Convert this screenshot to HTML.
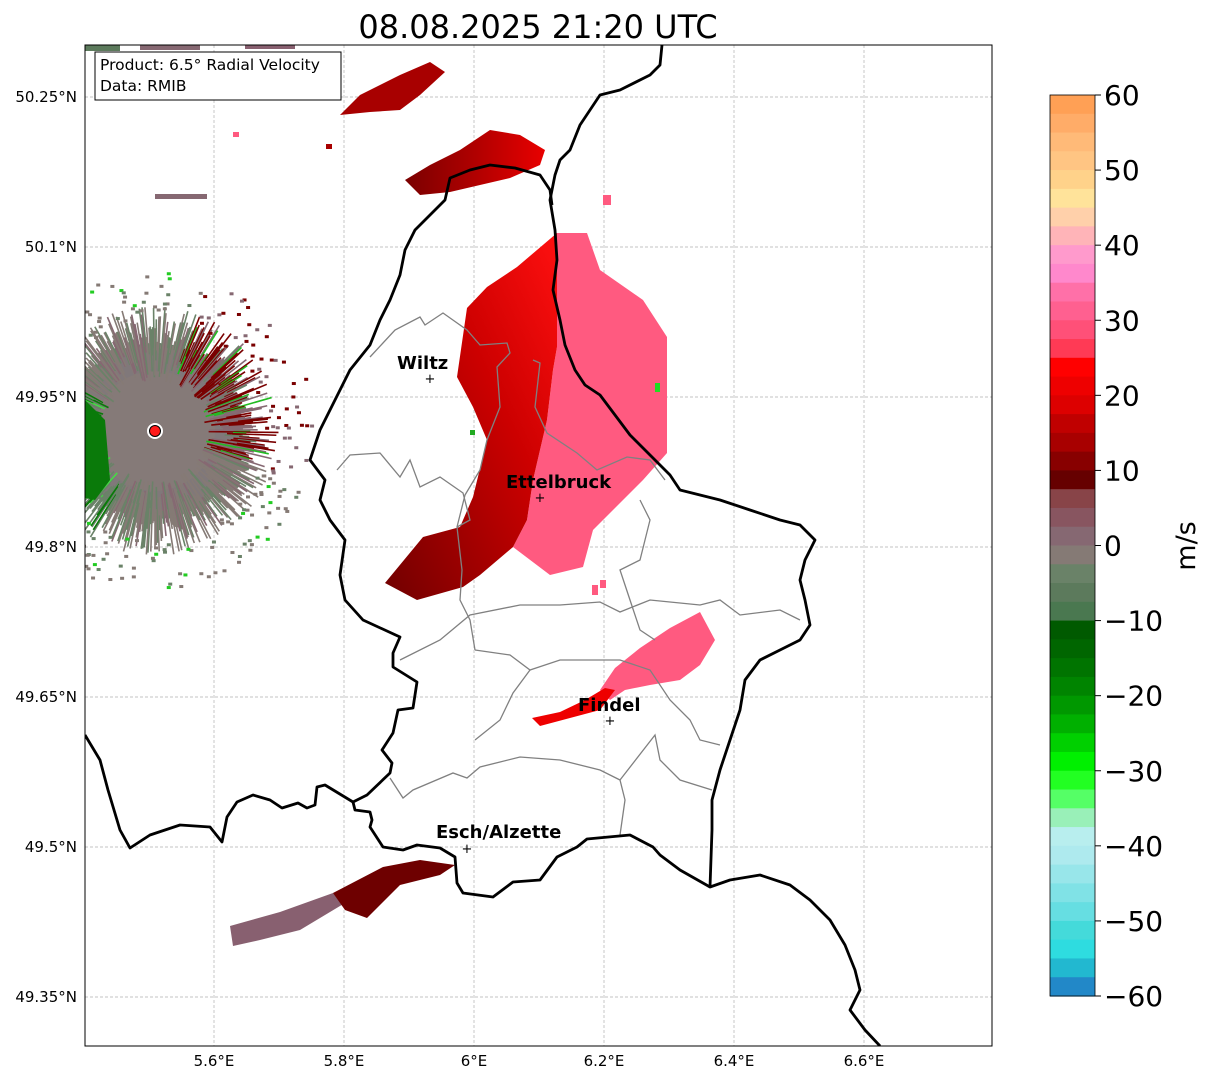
<!DOCTYPE html>
<html><head><meta charset="utf-8"><style>
body{margin:0;background:#fff;font-family:"Liberation Sans","DejaVu Sans",sans-serif}
svg text{font-family:"DejaVu Sans","Liberation Sans",sans-serif}
</style></head><body>
<svg id="s" width="1207" height="1081" viewBox="0 0 1207 1081" xmlns="http://www.w3.org/2000/svg">
<defs>
<clipPath id="ax"><rect x="85" y="45" width="907" height="1001"/></clipPath>
<linearGradient id="redg" x1="0" y1="0" x2="1" y2="0">
<stop offset="0" stop-color="#7a0000"/><stop offset="0.5" stop-color="#b00000"/><stop offset="1" stop-color="#e80000"/></linearGradient>
<linearGradient id="redg2" x1="0" y1="1" x2="1" y2="0">
<stop offset="0" stop-color="#700000"/><stop offset="0.6" stop-color="#cc0000"/><stop offset="1" stop-color="#ff1010"/></linearGradient>
</defs>
<text x="538" y="38" text-anchor="middle" font-size="32">08.08.2025 21:20 UTC</text>
<g id="grid"></g>
<g clip-path="url(#ax)">
<g id="clutter"></g>
<g>
<rect x="85" y="45" width="35" height="6" fill="#5c7a5c"/>
<rect x="140" y="45" width="60" height="5" fill="#866872"/>
<rect x="245" y="45" width="50" height="4" fill="#886070"/>
<rect x="155" y="194" width="52" height="5" fill="#866872"/>
<polygon fill="#a80000" points="340,115 360,95 400,75 430,62 445,72 420,95 400,110 370,112"/>
<polygon fill="url(#redg)" points="405,180 430,165 460,150 490,130 520,135 545,150 540,165 510,178 480,185 450,192 420,195"/>
<polygon fill="#ff5a80" points="557,233 587,233 600,270 643,300 667,337 667,453 643,480 593,530 583,567 550,575 513,547 527,520 533,480 547,420 553,370 557,347"/>
<polygon fill="url(#redg2)" points="557,233 557,347 553,370 547,420 533,480 527,520 513,547 480,575 463,587 417,600 385,583 423,537 460,527 473,497 487,440 473,407 457,377 467,308 487,287 517,267"/>
<polygon fill="#ff5a80" points="600,690 615,668 640,648 670,628 700,612 715,640 700,665 680,680 650,685 625,690 610,700"/>
<polygon fill="#ee0000" points="532,718 560,712 585,700 605,688 615,690 600,710 570,718 540,726"/>
<polygon fill="#886070" points="230,926 280,912 333,893 345,903 300,930 260,940 233,946"/>
<polygon fill="#6e0000" points="333,893 383,867 420,860 455,865 440,875 400,885 367,918 345,910"/>
<rect x="603" y="195" width="8" height="10" fill="#ff5a80"/>
<rect x="592" y="585" width="6" height="10" fill="#ff5a80"/>
<rect x="600" y="580" width="6" height="8" fill="#ff5a80"/>
<rect x="233" y="132" width="6" height="5" fill="#ff5a80"/>
<rect x="326" y="144" width="6" height="5" fill="#a80000"/>
<rect x="655" y="383" width="5" height="9" fill="#22dd22"/>
<rect x="470" y="430" width="5" height="5" fill="#22aa22"/>
</g>
<g id="gray-borders" fill="none" stroke="#808080" stroke-width="1.3"></g>
<g id="borders" fill="none" stroke="#000" stroke-width="2.8" stroke-linejoin="round"></g>
<circle cx="155" cy="431" r="5.5" fill="#ff1a1a" stroke="#000" stroke-width="1"/>
<g font-weight="bold" font-size="18">
<text x="397" y="369">Wiltz</text>
<text x="430" y="383" font-size="13" font-weight="normal" text-anchor="middle">+</text>
<text x="506" y="488">Ettelbruck</text>
<text x="540" y="502" font-size="13" font-weight="normal" text-anchor="middle">+</text>
<text x="578" y="711">Findel</text>
<text x="610" y="725" font-size="13" font-weight="normal" text-anchor="middle">+</text>
<text x="436" y="838">Esch/Alzette</text>
<text x="467" y="853" font-size="13" font-weight="normal" text-anchor="middle">+</text>
</g>
</g>
<rect x="85" y="45" width="907" height="1001" fill="none" stroke="#000" stroke-width="1"/>
<g>
<rect x="95" y="52" width="246" height="48" fill="#fff" stroke="#000" stroke-width="1"/>
<text x="100" y="70" font-size="15.5">Product: 6.5° Radial Velocity</text>
<text x="100" y="91" font-size="15.5">Data: RMIB</text>
</g>
<g id="ticks" font-size="15"></g>
<g id="cbar"></g>
<text x="1195" y="546" font-size="27" text-anchor="middle" transform="rotate(-90 1195 546)">m/s</text>
</svg>
<script>
const lonTicks=[5.6,5.8,6.0,6.2,6.4,6.6];
const lonLabels=["5.6°E","5.8°E","6°E","6.2°E","6.4°E","6.6°E"];
const latTicks=[50.25,50.1,49.95,49.8,49.65,49.5,49.35];
const latLabels=["50.25°N","50.1°N","49.95°N","49.8°N","49.65°N","49.5°N","49.35°N"];
const cbarTicks=[60,50,40,30,20,10,0,-10,-20,-30,-40,-50,-60];
const cbarColors=["#ffa055","#ffac68","#ffba78","#ffc583","#ffd28a","#ffe39a","#ffd0aa","#ffb4b8","#ff9acc","#ff88cc","#ff70a8","#ff6090","#ff5078","#ff3a55","#ff0000","#ee0000","#dd0000","#c00000","#a80000","#880000","#660000","#884448","#885560","#866872","#857a75","#6a8268","#5c7a5c","#4a7850","#005a00","#006600","#007400","#008400","#009800","#00b000","#00d000","#00f000","#22ff22","#55ff66","#99f0b8","#b8eeee","#aeeaee","#98e6ea","#80e2e6","#66dee2","#44dada","#2edce0","#22b8d0","#2288c8"];
const NS="http://www.w3.org/2000/svg";
function X(lon){return 474+(lon-6)*650;}
function Y(lat){return 547-(lat-49.8)*1000;}
function mk(tag,attrs,parent){const e=document.createElementNS(NS,tag);for(const k in attrs)e.setAttribute(k,attrs[k]);parent.appendChild(e);return e;}
const grid=document.getElementById('grid'),ticks=document.getElementById('ticks');
lonTicks.forEach((v,i)=>{const x=X(v);
 const l=mk('line',{x1:x,x2:x,y1:45,y2:1046,stroke:'#b0b0b0','stroke-width':0.7,'stroke-dasharray':'3,2'},grid);
 
 
 const t=mk('text',{x:x,y:1066,'text-anchor':'middle'},ticks);t.textContent=lonLabels[i];
 
 });
latTicks.forEach((v,i)=>{const y=Y(v);
 const l=mk('line',{x1:85,x2:992,y1:y,y2:y,stroke:'#b0b0b0','stroke-width':0.7,'stroke-dasharray':'3,2'},grid);
 
 
 const t=mk('text',{x:77,y:y+5,'text-anchor':'end'},ticks);t.textContent=latLabels[i];
 
 });
const cb=document.getElementById('cbar');const cT=95,cB=996,vmax=60,vmin=-60;
function CY(v){return cT+(vmax-v)/(vmax-vmin)*(cB-cT);}
cbarColors.forEach((c,i)=>{const v0=vmax-i*2.5;const r=mk('rect',{x:1050,y:CY(v0),width:45,height:CY(v0-2.5)-CY(v0)+0.6,fill:c},cb);
 
 });
mk('rect',{x:1050,y:cT,width:45,height:cB-cT,fill:'none',stroke:'#000','stroke-width':0.8},cb);
cbarTicks.forEach(v=>{const y=CY(v);mk('line',{x1:1095,x2:1101,y1:y,y2:y,stroke:'#000'},cb);
 const t=mk('text',{x:1104,y:y+10,'font-size':28},cb);t.textContent=(v<0?'\u2212'+(-v):''+v);
 
 });
const borders=[
[[662,45],[660,65],[650,75],[620,90],[600,95],[590,110],[580,125],[570,150],[560,160],[555,175],[550,200],[555,230],[557,260],[553,290],[560,320],[565,345],[575,370],[585,385],[600,395],[615,415],[630,435],[640,445],[655,460],[670,475],[680,490],[700,495],[720,500],[750,510],[780,520],[800,525],[815,540],[805,560],[800,580],[805,600],[810,625],[800,640],[780,650],[760,660],[745,680],[740,710],[730,740],[720,770],[712,800],[712,830],[710,887],[730,880],[760,875],[790,885],[810,900],[830,920],[845,945],[855,970],[860,990],[850,1010],[865,1030],[880,1046]],
[[710,887],[680,870],[660,855],[653,847],[630,835],[587,839],[577,847],[557,857],[540,880],[513,882],[493,897],[463,893],[457,883],[455,857],[440,848],[417,845],[403,850],[383,847],[370,827],[372,820],[370,812],[355,810],[353,802],[367,795],[390,773],[392,763],[382,750],[393,733],[398,710],[413,708],[417,682],[393,667],[393,653],[400,637],[363,620],[345,600],[340,575],[345,540],[330,520],[320,500],[325,480],[310,460],[320,430],[335,400],[350,370],[370,345],[380,320],[390,300],[400,275],[405,250],[415,230],[430,215],[445,200],[450,178],[470,170],[490,165],[515,168],[540,175],[550,190],[552,205]],
[[353,802],[325,785],[317,787],[315,805],[307,808],[298,803],[282,808],[270,800],[253,795],[237,802],[227,817],[222,842],[210,827],[180,825],[150,835],[130,848],[120,830],[108,790],[100,760],[85,735]]];
const bg=document.getElementById('borders');
borders.forEach(p=>{const e=mk('polyline',{points:p.map(q=>q.join(',')).join(' ')},bg);
 
 });
const grays=[
[[370,357],[395,330],[420,317],[425,325],[443,313],[467,330],[480,345],[507,343],[510,353],[497,367],[500,407],[487,440],[480,470],[465,495],[457,527],[462,570],[460,600],[470,620],[475,650]],
[[337,470],[350,455],[380,453],[400,477],[410,460],[420,487],[440,477],[463,493],[470,520],[457,527]],
[[533,360],[540,363],[535,407],[547,433],[577,453],[597,470],[627,457],[650,460],[665,480]],
[[640,500],[650,520],[645,540],[640,560],[620,570],[630,600],[640,630],[655,640]],
[[400,660],[440,640],[470,615],[520,605],[560,605],[600,602],[620,612],[650,600],[700,605],[720,600],[740,615],[780,610],[800,620]],
[[475,650],[510,655],[530,670],[560,660],[600,660],[620,660],[650,670],[670,700],[690,720],[700,740],[720,745]],
[[475,740],[500,720],[513,693],[530,670]],
[[390,778],[403,798],[413,790],[453,773],[467,778],[480,767],[520,757],[560,760],[600,770],[620,780],[625,800],[620,835]],
[[620,780],[655,735],[660,760],[680,780],[712,790]]];
const gg=document.getElementById('gray-borders');
grays.forEach(p=>{const e=mk('polyline',{points:p.map(q=>q.join(',')).join(' ')},gg);
 
 });
// clutter texture around radar site
const cl=document.getElementById('clutter');const cx=155,cy=431;
mk('circle',{cx:cx,cy:cy,r:88,fill:'#80787a'},cl);
mk('circle',{cx:cx,cy:cy,r:60,fill:'#857a78'},cl);
function h(n){const s=Math.sin(n*127.1+311.7)*43758.5453;return s-Math.floor(s);}
for(let i=0;i<540;i++){const a=i/540*Math.PI*2;const r0=50+h(i)*35;const r1=85+h(i+1000)*40;
 const deg=a*180/Math.PI;const u=h(i+2000);let col;
 if(deg>290||deg<20){col=u<0.45?'#7a0000':(u<0.8?'#866872':(u<0.9?'#6a8268':'#22bb22'));}
 else if(deg>120&&deg<210){col=u<0.3?'#0a7a0a':(u<0.85?'#6a8268':'#44dd44');}
 else {col=u<0.55?'#857a75':(u<0.85?'#6a8268':'#866872');}
 mk('line',{x1:cx+r0*Math.cos(a),y1:cy+r0*Math.sin(a),x2:cx+r1*Math.cos(a),y2:cy+r1*Math.sin(a),stroke:col,'stroke-width':1.6},cl);}
for(let i=0;i<260;i++){const a=h(i+3000)*Math.PI*2;const r=110+h(i+4000)*50;const deg=a*180/Math.PI;const u=h(i+5000);
 let col=(deg>290||deg<20)?(u<0.6?'#7a0000':'#866872'):(u<0.6?'#857a75':(u<0.85?'#6a8268':'#22cc22'));
 mk('rect',{x:cx+r*Math.cos(a)-2,y:cy+r*Math.sin(a)-1.5,width:4,height:3,fill:col},cl);}
mk('path',{d:'M85,400 L105,420 L110,480 L95,500 L85,498 Z',fill:'#0a7a0a'},cl);
mk('circle',{cx:cx,cy:cy,r:8,fill:'#fff'},cl);
</script>
</body></html>
